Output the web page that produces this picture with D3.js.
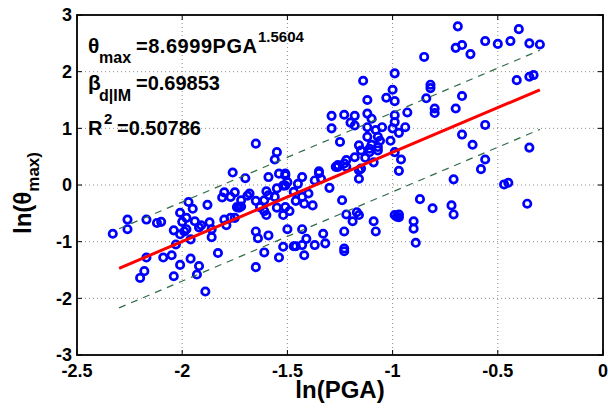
<!DOCTYPE html>
<meta charset="utf-8">
<body style="margin:0;background:#fff">
<div id="chart"></div>
<script src="https://d3js.org/d3.v7.min.js"></script>
<script>

  // scatter data: ln(PGA) and ln(theta_max)
  const lnPGA = [
    -2.33,-2.26,-2.26,-2.17,-2.12,-2.10,-2.17,-2.20,-2.18,-2.09,-2.05,-2.04,-2.01,-2.04,-2.01,-1.99,-1.98,-1.96,-2.03,-2.00,
    -1.98,-2.01,-1.97,-1.95,-1.94,-1.91,-1.92,-1.88,-1.87,-1.86,-1.86,-1.96,-1.92,-1.93,-1.89,-1.83,-1.80,-1.79,-1.77,-1.75,
    -1.74,-1.72,-1.80,-1.81,-1.75,-1.77,-1.72,-1.73,-1.69,-1.68,-1.65,-1.60,-1.59,-1.61,-1.55,-1.52,-1.50,-1.56,-1.55,-1.63,
    -1.61,-1.60,-1.51,-1.52,-1.76,-1.70,-1.59,-1.54,-1.51,-1.65,-1.55,-1.56,-1.65,-1.64,-1.59,-1.61,-1.65,-1.52,-1.54,-1.50,
    -1.49,-1.51,-1.51,-1.43,-1.45,-1.47,-1.43,-1.40,-1.35,-1.34,-1.37,-1.35,-1.30,-1.26,-1.22,-1.16,-1.16,-1.24,-1.46,-1.42,
    -1.38,-1.22,-1.19,-1.16,-1.17,-1.43,-1.41,-1.33,-1.23,-1.47,-1.43,-1.37,-1.32,-1.42,-1.23,-1.23,-1.46,-1.29,-1.23,-1.18,
    -1.20,-1.18,-1.29,-1.25,-1.12,-1.12,-1.12,-1.16,-1.15,-1.11,-1.18,-1.13,-1.22,-1.23,-1.27,-1.26,-1.15,-1.14,-1.12,-0.85,
    -0.99,-1.00,-0.82,-0.82,-1.03,-0.99,-0.84,-0.80,-0.80,-0.93,-1.10,-0.99,-1.08,-1.05,-0.99,-1.00,-0.97,-0.94,-1.07,-1.06,
    -1.01,-1.10,-1.07,-1.11,-1.07,-0.99,-0.96,-1.09,-0.97,-0.87,-0.81,-0.72,-0.71,-0.99,-0.97,-0.98,-0.97,-1.09,-1.08,-0.90,
    -0.90,-0.89,-0.71,-0.67,-0.62,-0.56,-0.58,-0.56,-0.69,-0.70,-0.67,-0.63,-0.56,-0.50,-0.44,-0.40,-0.35,-0.30,-0.41,-0.35,
    -0.33,-0.67,-0.70,-0.35,-0.47,-0.45,-0.36
  ];
  const lnThetaMax = [
    -0.86,-0.61,-0.78,-0.61,-0.67,-0.65,-1.28,-1.64,-1.52,-1.28,-1.24,-1.61,-1.41,-0.80,-0.87,-0.82,-0.78,-0.96,-1.05,-0.65,
    -0.58,-0.49,-0.30,-0.42,-0.64,-0.71,-0.75,-0.35,-0.66,-0.92,-0.78,-1.30,-1.43,-1.58,-1.88,-1.20,-0.61,-0.71,-0.58,-0.58,
    -0.39,-0.38,-0.13,-0.22,-0.13,-0.21,-0.27,-0.40,-0.19,-0.15,-0.28,-0.11,-0.18,-0.27,-0.06,-0.01,0.05,-0.21,-0.40,-0.39,
    -0.46,-0.53,-0.39,-0.53,0.22,0.12,0.14,0.20,0.20,0.73,0.58,0.45,-0.82,-0.94,-0.89,-1.19,-1.45,-1.09,-1.28,-0.78,
    -0.46,0.17,-0.01,0.14,0.02,-0.12,-0.21,-0.15,0.21,0.11,0.08,0.24,-0.05,0.32,0.32,0.26,0.11,-0.27,-0.28,-0.33,
    -0.36,-0.52,-0.64,-0.53,-0.48,-0.78,-0.95,-0.86,-0.82,-1.08,-1.06,-1.06,-1.03,-1.24,-1.12,-1.17,-1.08,1.22,1.24,1.22,
    1.10,1.05,1.00,0.76,1.26,1.02,0.85,0.70,0.61,0.64,0.49,0.48,0.44,0.38,0.32,0.35,0.29,1.84,1.50,2.26,
    1.97,1.68,1.77,1.71,1.54,1.48,1.53,1.35,1.27,1.28,1.17,1.23,0.97,1.02,1.11,1.00,0.92,1.02,0.85,0.78,
    0.78,0.71,0.67,0.58,0.61,0.58,0.45,0.40,0.25,-0.25,-0.41,-0.36,-0.52,-0.53,-0.52,-0.56,-0.57,-0.64,-0.82,-0.64,
    -0.77,-1.02,0.10,0.89,0.71,0.45,0.28,1.06,2.80,2.42,2.47,2.31,2.54,2.49,2.54,2.75,2.50,2.48,1.85,1.91,
    1.94,1.57,1.35,0.66,0.01,0.04,-0.33
  ];

  // fit line ends, band = +/- beta
  const fitX = [-2.3, -0.3];
  const fitY = [-1.47, 1.68];
  const fitA = "8.6999", fitB = "1.5604", fitBeta = 0.69853, fitR2 = "0.50786";

  const xTicks = [-2.5, -2, -1.5, -1, -0.5, 0];
  const yTicks = [-3, -2, -1, 0, 1, 2, 3];

  const margin = {top: 15, right: 5, bottom: 57, left: 77},
      width = 608 - margin.left - margin.right,
      height = 412 - margin.top - margin.bottom;

  const font = "'Liberation Sans', Arial, Helvetica, sans-serif";

  const svg = d3.select("#chart")
    .append("svg")
      .attr("width", 608)
      .attr("height", 412)
      .style("font-family", font)
      .style("font-weight", "bold");

  const g = svg.append("g")
      .attr("transform", `translate(${margin.left},${margin.top})`);

  const x = d3.scaleLinear().domain([-2.5, 0]).range([0, width]);
  const y = d3.scaleLinear().domain([-3, 3]).range([height, 0]);

  // dotted grid
  g.selectAll(".gx").data(xTicks.slice(1, -1)).join("line")
      .attr("x1", d => x(d)).attr("x2", d => x(d))
      .attr("y1", 0).attr("y2", height)
      .attr("stroke", "#8c8c8c").attr("stroke-dasharray", "1,3");
  g.selectAll(".gy").data(yTicks.slice(1, -1)).join("line")
      .attr("y1", d => y(d)).attr("y2", d => y(d))
      .attr("x1", 0).attr("x2", width)
      .attr("stroke", "#8c8c8c").attr("stroke-dasharray", "1,3");

  // scatter
  g.selectAll("circle").data(lnPGA).join("circle")
      .attr("cx", d => x(d))
      .attr("cy", (d, i) => y(lnThetaMax[i]))
      .attr("r", 3.7)
      .attr("fill", "none")
      .attr("stroke", "#0000ff")
      .attr("stroke-width", 2.7);

  // fit line and +/- beta bands
  const fitLine = off => d3.line()
      .x(d => x(d))
      .y((d, i) => y(fitY[i] + off))(fitX);

  g.append("path").attr("d", fitLine(fitBeta))
      .attr("stroke", "#2f6b47").attr("stroke-width", 1.2)
      .attr("stroke-dasharray", "7,6").attr("fill", "none");
  g.append("path").attr("d", fitLine(-fitBeta))
      .attr("stroke", "#2f6b47").attr("stroke-width", 1.2)
      .attr("stroke-dasharray", "7,6").attr("fill", "none");
  g.append("path").attr("d", fitLine(0))
      .attr("stroke", "#ff0000").attr("stroke-width", 3).attr("fill", "none");

  // box + inward ticks
  g.append("rect")
      .attr("width", width).attr("height", height)
      .attr("fill", "none").attr("stroke", "#000").attr("stroke-width", 1.8);
  xTicks.forEach(t => {
    g.append("line").attr("x1", x(t)).attr("x2", x(t)).attr("y1", height).attr("y2", height - 5).attr("stroke", "#000");
    g.append("line").attr("x1", x(t)).attr("x2", x(t)).attr("y1", 0).attr("y2", 5).attr("stroke", "#000");
  });
  yTicks.forEach(t => {
    g.append("line").attr("y1", y(t)).attr("y2", y(t)).attr("x1", 0).attr("x2", 5).attr("stroke", "#000");
    g.append("line").attr("y1", y(t)).attr("y2", y(t)).attr("x1", width).attr("x2", width - 5).attr("stroke", "#000");
  });

  // tick labels
  g.selectAll(".xl").data(xTicks).join("text")
      .attr("x", d => x(d)).attr("y", height + 22)
      .attr("text-anchor", "middle").style("font-size", "18px")
      .text(d => d);
  g.selectAll(".yl").data(yTicks).join("text")
      .attr("x", -5).attr("y", d => y(d)).attr("dy", "0.36em")
      .attr("text-anchor", "end").style("font-size", "18px")
      .text(d => d);

  // axis labels
  svg.append("text")
      .attr("x", margin.left + width / 2).attr("y", 398)
      .attr("text-anchor", "middle").style("font-size", "24px")
      .text("ln(PGA)");

  const yl = svg.append("text")
      .attr("transform", "translate(31,234) rotate(-90)")
      .style("font-size", "24px");
  yl.append("tspan").text("ln(θ");
  yl.append("tspan").attr("dy", 8).style("font-size", "17px").text("max)");

  // annotation
  const ann = [
    {t: "θ", x: 88, y: 52.7, s: 21},
    {t: "max", x: 99, y: 63.3, s: 16},
    {t: "=" + fitA + "PGA", x: 136, y: 52.7, s: 20, w: 121},
    {t: fitB, x: 258, y: 42, s: 15},
    {t: "β", x: 88, y: 90, s: 21},
    {t: "d|IM", x: 99, y: 100.5, s: 16},
    {t: "=" + fitBeta, x: 136, y: 90, s: 20},
    {t: "R", x: 88, y: 135, s: 20},
    {t: "2", x: 104, y: 124, s: 15},
    {t: "=" + fitR2, x: 117, y: 135, s: 20}
  ];
  svg.selectAll(".ann").data(ann).join("text")
      .attr("x", d => d.x).attr("y", d => d.y)
      .attr("textLength", d => d.w || null)
      .style("font-size", d => d.s + "px")
      .text(d => d.t);

</script>
</body>
